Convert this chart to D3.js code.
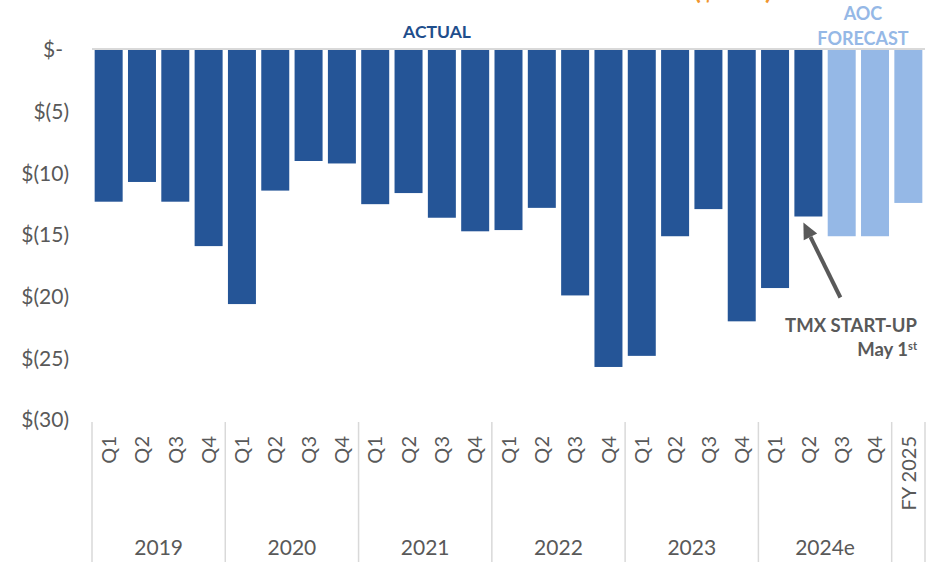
<!DOCTYPE html>
<html>
<head>
<meta charset="utf-8">
<script src="https://cdn.jsdelivr.net/npm/d3@7"></script>
<style>
  body { margin: 0; background: #fff; }
  svg { display: block; font-family: Lato, 'Open Sans', sans-serif; }
</style>
</head>
<body>
<div id="chart"></div>
<script>
// Data ($ millions, negative).
const yearGroups = ['2019', '2020', '2021', '2022', '2023', '2024e', ''];
const groupSizes = [4, 4, 4, 4, 4, 4, 1];
const tickLabels = [
  'Q1', 'Q2', 'Q3', 'Q4', 'Q1', 'Q2', 'Q3', 'Q4', 'Q1', 'Q2', 'Q3', 'Q4',
  'Q1', 'Q2', 'Q3', 'Q4', 'Q1', 'Q2', 'Q3', 'Q4', 'Q1', 'Q2', 'Q3', 'Q4',
  'FY 2025'
];
const values = [
  -12.3, -10.7, -12.3, -15.9,
  -20.6, -11.4, -9.0, -9.2,
  -12.5, -11.6, -13.6, -14.7,
  -14.6, -12.8, -19.9, -25.7,
  -24.8, -15.1, -12.9, -22.0,
  -19.3, -13.5, -15.1, -15.1,
  -12.4
];
const status = [
  'A', 'A', 'A', 'A', 'A', 'A', 'A', 'A', 'A', 'A', 'A', 'A',
  'A', 'A', 'A', 'A', 'A', 'A', 'A', 'A', 'A', 'A', 'F', 'F',
  'F'
];
const yTicks = [0, -5, -10, -15, -20, -25, -30];

const width = 933;
const height = 562;
const DARK = '#255597';
const LIGHT = '#95B8E6';
const TEXT = '#595959';
const GRID = '#d9d9d9';

const keys = values.map((v, i) => i);
const data = values.map((v, i) => ({ key: i, value: v, label: tickLabels[i], status: status[i] }));

const svg = d3.select('#chart')
  .append('svg')
  .attr('width', width)
  .attr('height', height);

const x = d3.scaleBand()
  .domain(keys)
  .range([92, 925])
  .paddingInner(0.16)
  .paddingOuter(0.08);

const y = d3.scaleLinear()
  .domain([0, -30])
  .range([50, 420]);

// Orange title, cut off by the top edge as in the source.
svg.append('text')
  .attr('x', 733)
  .attr('y', -1)
  .attr('text-anchor', 'middle')
  .attr('fill', '#F0962E')
  .style('font-size', '26px')
  .style('font-weight', 'bold')
  .text('($MM)');

// Zero gridline.
svg.append('line')
  .attr('x1', 92)
  .attr('x2', 925)
  .attr('y1', y(0) - 1)
  .attr('y2', y(0) - 1)
  .attr('stroke', GRID)
  .attr('stroke-width', 2);

// Y axis.
const yAxis = svg.append('g')
  .attr('transform', 'translate(69,0)')
  .call(d3.axisLeft(y)
    .tickValues(yTicks)
    .tickSize(0)
    .tickPadding(0)
    .tickFormat(v => v === 0 ? '$-' : `$(${-v})`));

yAxis.select('.domain').remove();
yAxis.selectAll('text')
  .attr('fill', TEXT)
  .style('font-size', '21px')
  .style('font-family', 'Lato, sans-serif')
  .attr('dx', d => d === 0 ? -6 : 0);

// Bars.
svg.append('g')
  .selectAll('rect')
  .data(data)
  .join('rect')
  .attr('x', d => x(d.key))
  .attr('y', y(0))
  .attr('width', x.bandwidth())
  .attr('height', d => y(d.value) - y(0))
  .attr('fill', d => d.status === 'A' ? DARK : LIGHT);

// Quarter labels (rotated).
svg.append('g')
  .selectAll('text')
  .data(data)
  .join('text')
  .attr('transform', d => `translate(${x(d.key) + x.bandwidth() / 2},436) rotate(-90)`)
  .attr('text-anchor', 'end')
  .attr('dy', '0.36em')
  .attr('fill', TEXT)
  .style('font-size', '20px')
  .text(d => d.label);

// Year group labels and separators.
const step = x.step();
const rangeStart = x.range()[0];
let offset = 0;
const groups = yearGroups.map((name, i) => {
  const g = { name, start: offset, size: groupSizes[i] };
  offset += groupSizes[i];
  return g;
});

svg.append('g')
  .selectAll('line')
  .data([...groups.map(g => g.start), offset])
  .join('line')
  .attr('x1', d => rangeStart + d * step)
  .attr('x2', d => rangeStart + d * step)
  .attr('y1', 422)
  .attr('y2', height)
  .attr('stroke', GRID)
  .attr('stroke-width', 1.5);

svg.append('g')
  .selectAll('text')
  .data(groups.filter(g => g.name))
  .join('text')
  .attr('x', g => rangeStart + (g.start + g.size / 2) * step)
  .attr('y', 555)
  .attr('text-anchor', 'middle')
  .attr('fill', TEXT)
  .style('font-size', '21px')
  .text(g => g.name);

// Section headers.
svg.append('text')
  .attr('x', 437)
  .attr('y', 38)
  .attr('text-anchor', 'middle')
  .attr('fill', '#1F4E8C')
  .style('font-size', '17.5px')
  .style('font-weight', 'bold')
  .text('ACTUAL');

const forecastHeader = svg.append('text')
  .attr('text-anchor', 'middle')
  .attr('fill', LIGHT)
  .style('font-size', '18px')
  .style('font-weight', 'bold');
forecastHeader.append('tspan').attr('x', 863).attr('y', 20).text('AOC');
forecastHeader.append('tspan').attr('x', 863).attr('y', 45).text('FORECAST');

// TMX start-up annotation pointing at 2024 Q2.
const target = data[21];
const tipX = x(target.key) + x.bandwidth() / 2 - 5;
const tipY = y(target.value) + 6;
const tailX = tipX + 37;
const tailY = tipY + 75;
const len = Math.hypot(tailX - tipX, tailY - tipY);
const ux = (tailX - tipX) / len;
const uy = (tailY - tipY) / len;
const headLen = 16;
const headHalf = 7.5;
const baseX = tipX + ux * headLen;
const baseY = tipY + uy * headLen;

svg.append('line')
  .attr('x1', tailX)
  .attr('y1', tailY)
  .attr('x2', baseX)
  .attr('y2', baseY)
  .attr('stroke', TEXT)
  .attr('stroke-width', 4);

svg.append('path')
  .attr('d', `M${tipX},${tipY} L${baseX - uy * headHalf},${baseY + ux * headHalf} L${baseX + uy * headHalf},${baseY - ux * headHalf} Z`)
  .attr('fill', TEXT);

svg.append('text')
  .attr('text-anchor', 'end')
  .attr('x', 917)
  .attr('y', 332)
  .attr('fill', TEXT)
  .style('font-size', '18.5px')
  .style('font-weight', 'bold')
  .text('TMX START-UP');

const note2 = svg.append('text')
  .attr('text-anchor', 'end')
  .attr('x', 917)
  .attr('y', 356)
  .attr('fill', TEXT)
  .style('font-size', '18.5px')
  .style('font-weight', 'bold');
note2.append('tspan').text('May 1');
note2.append('tspan').attr('dy', -6).style('font-size', '11px').text('st');
</script>
</body>
</html>
